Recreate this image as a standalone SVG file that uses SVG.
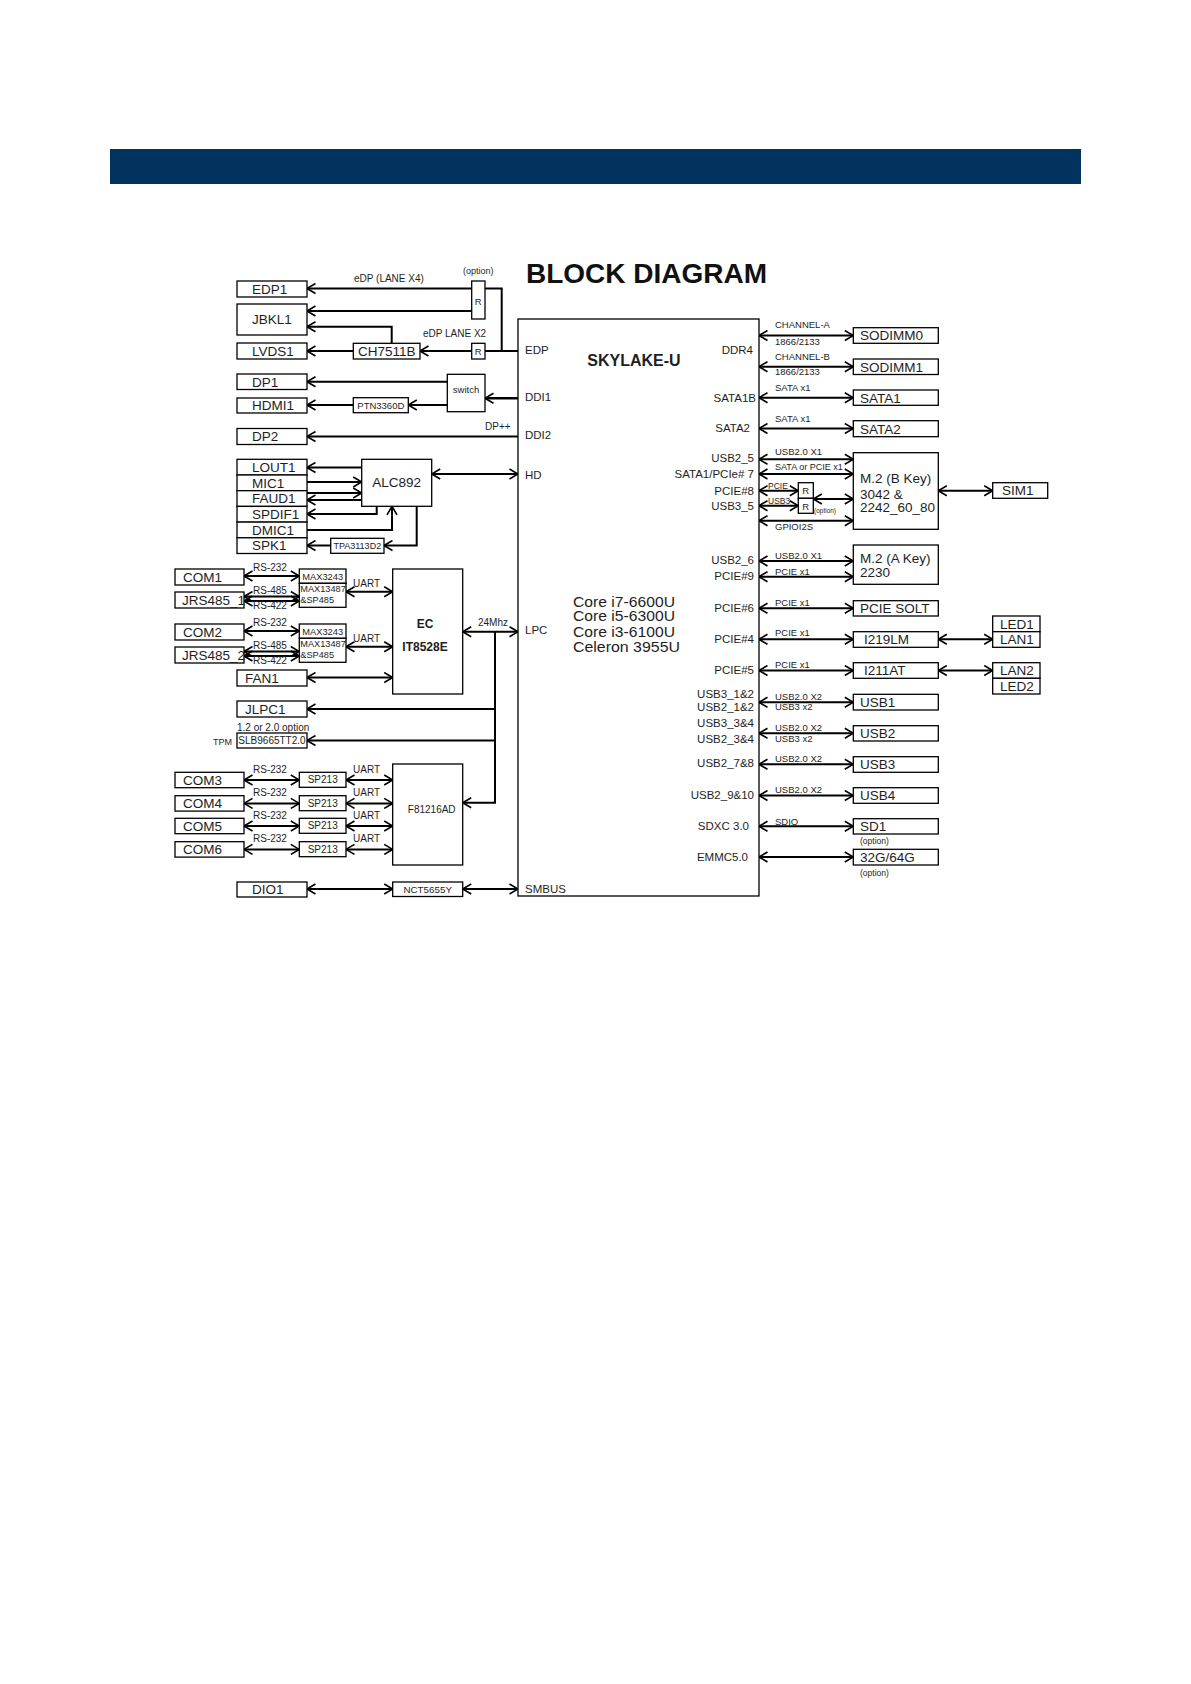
<svg xmlns="http://www.w3.org/2000/svg" width="1191" height="1684" viewBox="0 0 1191 1684">
<style>
.b{fill:#fff;stroke:#000;stroke-width:1.3}
text{font-family:"Liberation Sans",Arial,sans-serif;fill:#1e1e1e}
.lb{font-size:13.5px}
.sm{font-size:9.5px}
.xs{font-size:8.5px}
.pin{font-size:11.5px}
.mid{text-anchor:middle}
.end{text-anchor:end}
.bold{font-weight:bold}
.core{font-size:15px}
.c{fill:none;stroke:#000;stroke-width:2}
.a1{marker-end:url(#ah)}
.a2{marker-start:url(#ah);marker-end:url(#ah)}
</style>
<defs>
<marker id="ah" viewBox="0 0 10 12" refX="9.5" refY="6" markerWidth="10" markerHeight="12" orient="auto-start-reverse" markerUnits="userSpaceOnUse">
<path d="M1,1 L9.5,6 L1,11" fill="none" stroke="#000" stroke-width="1.6"/>
</marker>
</defs>
<rect width="1191" height="1684" fill="#fff"/>
<rect id="header" x="110" y="149" width="971" height="35" fill="#02335f"/>
<text x="526" y="283" font-size="28" class="bold" style="fill:#111">BLOCK DIAGRAM</text>

<g id="connectors">
<path class="c a1" d="M471.7,288.5H307"/>
<path class="c a1" d="M471.7,311H307"/>
<path class="c" d="M485,288.5H501.7V351"/>
<path class="c" d="M518,351H485"/>
<path class="c a1" d="M471.7,351H420"/>
<path class="c a1" d="M391.7,343.3V326.7H307"/>
<path class="c a1" d="M353.3,351H307"/>
<path class="c a1" d="M447.3,381.7H307"/>
<path class="c a1" d="M447.3,405H408.3"/>
<path class="c a1" d="M353.3,405H307"/>
<path class="c a1" d="M518,398.3H485" style="stroke-width:2.4"/>
<path class="c a1" d="M518,436.5H307"/>
<path class="c a2" d="M431.7,474H518"/>
<path class="c a1" d="M361.7,467.5H307"/>
<path class="c a1" d="M307,482H361.7"/>
<path class="c a1" d="M307,493H361.7"/>
<path class="c a1" d="M361.7,500H307"/>
<path class="c a1" d="M376.7,506.3V514H307"/>
<path class="c a1" d="M307,530H392V506.3"/>
<path class="c a1" d="M416.7,506.3V545.5H384"/>
<path class="c a1" d="M330.7,545.5H307"/>
<path class="c a2" d="M244,576H299.3"/>
<path class="c a2" d="M244,596.5H299.3"/>
<path class="c a2" d="M244,601H299.3"/>
<path class="c a2" d="M346,591.7H392.7"/>
<path class="c a2" d="M244,631H299.3"/>
<path class="c a2" d="M244,651.5H299.3"/>
<path class="c a2" d="M244,656H299.3"/>
<path class="c a2" d="M346,646.7H392.7"/>
<path class="c a2" d="M307,677.5H392.7"/>
<path class="c a2" d="M462.7,631.7H518"/>
<path class="c a1" d="M495,631.7V802.7H462.7"/>
<path class="c a1" d="M495,709H307"/>
<path class="c a1" d="M495,740.5H307"/>
<path class="c a2" d="M244,780H299.3"/>
<path class="c a2" d="M244,803.4H299.3"/>
<path class="c a2" d="M244,826H299.3"/>
<path class="c a2" d="M244,849.4H299.3"/>
<path class="c a2" d="M346,780H392.7"/>
<path class="c a2" d="M346,803.4H392.7"/>
<path class="c a2" d="M346,826H392.7"/>
<path class="c a2" d="M346,849.4H392.7"/>
<path class="c a2" d="M307,889H392.7"/>
<path class="c a2" d="M462.7,889H518"/>
<path class="c a2" d="M759,335.5H853.3"/>
<path class="c a2" d="M759,366.7H853.3"/>
<path class="c a2" d="M759,397.7H853.3"/>
<path class="c a2" d="M759,428.5H853.3"/>
<path class="c a2" d="M759,459.3H853.3"/>
<path class="c a2" d="M759,474H853.3"/>
<path class="c a2" d="M759,490.7H798.3"/>
<path class="c a2" d="M759,505.7H798.3"/>
<path class="c a2" d="M813.3,499H853.3"/>
<path class="c a2" d="M759,520.7H853.3"/>
<path class="c a2" d="M938.3,490.7H992.7"/>
<path class="c a2" d="M759,561H853.3"/>
<path class="c a2" d="M759,576.7H853.3"/>
<path class="c a2" d="M759,608.3H853.3"/>
<path class="c a2" d="M759,639.3H853.3"/>
<path class="c a2" d="M938.3,639.3H992.7"/>
<path class="c a2" d="M759,670.5H853.3"/>
<path class="c a2" d="M938.3,670.5H992.7"/>
<path class="c a2" d="M759,702.3H853.3"/>
<path class="c a2" d="M759,733.3H853.3"/>
<path class="c a2" d="M759,764.3H853.3"/>
<path class="c a2" d="M759,795.5H853.3"/>
<path class="c a2" d="M759,826.3H853.3"/>
<path class="c a2" d="M759,857H853.3"/>
<g id="connector-labels">
<text x="463" y="274" font-size="9">(option)</text>
<text x="354" y="281.5" font-size="10">eDP (LANE X4)</text>
<text x="423" y="336.5" font-size="10">eDP LANE X2</text>
<text x="485" y="430" font-size="10">DP++</text>
<text x="253" y="570.5" font-size="10">RS-232</text>
<text x="253" y="593.5" font-size="10">RS-485</text>
<text x="253" y="608.5" font-size="10">RS-422</text>
<text x="353" y="586.5" font-size="10">UART</text>
<text x="253" y="625.5" font-size="10">RS-232</text>
<text x="253" y="648.5" font-size="10">RS-485</text>
<text x="253" y="663.5" font-size="10">RS-422</text>
<text x="353" y="641.5" font-size="10">UART</text>
<text x="478" y="626" font-size="10">24Mhz</text>
<text x="253" y="772.6" font-size="10">RS-232</text>
<text x="253" y="796" font-size="10">RS-232</text>
<text x="253" y="818.6" font-size="10">RS-232</text>
<text x="253" y="842" font-size="10">RS-232</text>
<text x="353" y="772.6" font-size="10">UART</text>
<text x="353" y="796" font-size="10">UART</text>
<text x="353" y="818.6" font-size="10">UART</text>
<text x="353" y="842" font-size="10">UART</text>
<text x="775" y="328.3" class="sm">CHANNEL-A</text>
<text x="775" y="344.5" class="sm">1866/2133</text>
<text x="775" y="359.5" class="sm">CHANNEL-B</text>
<text x="775" y="375" class="sm">1866/2133</text>
<text x="775" y="390.5" class="sm">SATA x1</text>
<text x="775" y="421.5" class="sm">SATA x1</text>
<text x="775" y="454.5" class="sm">USB2.0 X1</text>
<text x="775" y="469.5" font-size="9">SATA or PCIE x1</text>
<text x="768" y="488.5" class="xs">PCIE</text>
<text x="768" y="503.5" class="xs">USB3</text>
<text x="814" y="512.5" font-size="6.5">(option)</text>
<text x="775" y="530" class="sm">GPIOI2S</text>
<text x="775" y="558.5" class="sm">USB2.0 X1</text>
<text x="775" y="574.5" class="sm">PCIE x1</text>
<text x="775" y="605.5" class="sm">PCIE x1</text>
<text x="775" y="636" class="sm">PCIE x1</text>
<text x="775" y="667.5" class="sm">PCIE x1</text>
<text x="775" y="699.8" class="sm">USB2.0 X2</text>
<text x="775" y="709.8" class="sm">USB3 x2</text>
<text x="775" y="730.7" class="sm">USB2.0 X2</text>
<text x="775" y="741.5" class="sm">USB3 x2</text>
<text x="775" y="761.5" class="sm">USB2.0 X2</text>
<text x="775" y="793" class="sm">USB2.0 X2</text>
<text x="775" y="825" class="sm">SDIO</text>
</g>
</g>

<g id="cpu">
<rect class="b" x="518" y="319" width="241" height="577"/>
<text x="634" y="365.7" font-size="16" class="bold mid">SKYLAKE-U</text>
<text x="573" y="606.7" class="core" textLength="102" lengthAdjust="spacingAndGlyphs">Core i7-6600U</text>
<text x="573" y="621.2" class="core" textLength="102" lengthAdjust="spacingAndGlyphs">Core i5-6300U</text>
<text x="573" y="636.5" class="core" textLength="102" lengthAdjust="spacingAndGlyphs">Core i3-6100U</text>
<text x="573" y="651.8" class="core" textLength="107" lengthAdjust="spacingAndGlyphs">Celeron 3955U</text>
<text x="525" y="354" class="pin">EDP</text>
<text x="525" y="400.7" class="pin">DDI1</text>
<text x="525" y="439" class="pin">DDI2</text>
<text x="525" y="479" class="pin">HD</text>
<text x="525" y="634" class="pin">LPC</text>
<text x="525" y="893" class="pin">SMBUS</text>
<text x="753" y="354" class="pin end">DDR4</text>
<text x="756" y="401.7" class="pin end">SATA1B</text>
<text x="750" y="432.3" class="pin end">SATA2</text>
<text x="754" y="462.3" class="pin end">USB2_5</text>
<text x="754" y="478" class="pin end">SATA1/PCIe# 7</text>
<text x="754" y="494.7" class="pin end">PCIE#8</text>
<text x="754" y="509.7" class="pin end">USB3_5</text>
<text x="754" y="564" class="pin end">USB2_6</text>
<text x="754" y="580" class="pin end">PCIE#9</text>
<text x="754" y="611.5" class="pin end">PCIE#6</text>
<text x="754" y="643.3" class="pin end">PCIE#4</text>
<text x="754" y="674.3" class="pin end">PCIE#5</text>
<text x="754" y="698" class="pin end">USB3_1&amp;2</text>
<text x="754" y="711.3" class="pin end">USB2_1&amp;2</text>
<text x="754" y="727.3" class="pin end">USB3_3&amp;4</text>
<text x="754" y="743" class="pin end">USB2_3&amp;4</text>
<text x="754" y="766.7" class="pin end">USB2_7&amp;8</text>
<text x="754" y="799" class="pin end">USB2_9&amp;10</text>
<text x="749" y="830" class="pin end">SDXC 3.0</text>
<text x="748" y="860.7" class="pin end">EMMC5.0</text>
</g>

<g id="edp1"><rect class="b" x="237" y="281" width="70" height="16"/><text x="252" y="293.5" class="lb">EDP1</text></g>
<g id="jbkl1"><rect class="b" x="237" y="304" width="70" height="31"/><text x="252" y="323.5" class="lb">JBKL1</text></g>
<g id="lvds1"><rect class="b" x="237" y="343" width="70" height="16"/><text x="252" y="355.8" class="lb">LVDS1</text></g>
<g id="dp1"><rect class="b" x="237" y="374" width="70" height="15.5"/><text x="252" y="386.5" class="lb">DP1</text></g>
<g id="hdmi1"><rect class="b" x="237" y="398" width="70" height="15"/><text x="252" y="410.3" class="lb">HDMI1</text></g>
<g id="dp2"><rect class="b" x="237" y="428.5" width="70" height="16"/><text x="252" y="441.3" class="lb">DP2</text></g>
<g id="r-top"><rect class="b" x="471.7" y="281" width="13.3" height="38"/><text x="478.3" y="305" class="sm mid">R</text></g>
<g id="r-edp"><rect class="b" x="471.7" y="343.3" width="13.3" height="15.7"/><text x="478.3" y="354.5" class="sm mid">R</text></g>
<g id="ch7511b"><rect class="b" x="353.3" y="343.3" width="66.7" height="15.7"/><text x="386.7" y="356" class="lb mid">CH7511B</text></g>
<g id="switch"><rect class="b" x="447.3" y="374.3" width="37.7" height="37.4"/><text x="466" y="393.3" class="sm mid">switch</text></g>
<g id="ptn3360d"><rect class="b" x="353.3" y="397.7" width="55" height="15"/><text x="380.8" y="408.5" font-size="9.5" class="mid">PTN3360D</text></g>

<g id="lout1"><rect class="b" x="237" y="459.3" width="70" height="15.7"/><text x="252" y="471.9" class="lb">LOUT1</text></g>
<g id="mic1"><rect class="b" x="237" y="475" width="70" height="15.7"/><text x="252" y="487.6" class="lb">MIC1</text></g>
<g id="faud1"><rect class="b" x="237" y="490.7" width="70" height="15.7"/><text x="252" y="503.3" class="lb">FAUD1</text></g>
<g id="spdif1"><rect class="b" x="237" y="506.4" width="70" height="15.7"/><text x="252" y="519" class="lb">SPDIF1</text></g>
<g id="dmic1"><rect class="b" x="237" y="522.1" width="70" height="15.7"/><text x="252" y="534.7" class="lb">DMIC1</text></g>
<g id="spk1"><rect class="b" x="237" y="537.8" width="70" height="15.7"/><text x="252" y="550.4" class="lb">SPK1</text></g>
<g id="alc892"><rect class="b" x="361.7" y="459.3" width="70" height="47"/><text x="396.7" y="487" class="lb mid">ALC892</text></g>
<g id="tpa3113d2"><rect class="b" x="330.7" y="538.3" width="53.3" height="15"/><text x="357.3" y="549" font-size="9" class="mid">TPA3113D2</text></g>

<g id="com1"><rect class="b" x="175" y="569" width="69" height="16"/><text x="183" y="581.8" class="lb">COM1</text></g>
<g id="jrs485_1"><rect class="b" x="175" y="592" width="69" height="16"/><text x="182" y="604.8" class="lb">JRS485_1</text></g>
<g id="max3243-1"><rect class="b" x="299.3" y="569" width="46.7" height="14.3"/><text x="322.7" y="579.6" font-size="9.3" class="mid">MAX3243</text></g>
<g id="max13487-1"><rect class="b" x="299.3" y="583.3" width="46.7" height="24"/><text x="300.3" y="592" font-size="9.2">MAX13487</text><text x="300.3" y="603" font-size="9.2">&amp;SP485</text></g>
<g id="com2"><rect class="b" x="175" y="624" width="69" height="16"/><text x="183" y="636.8" class="lb">COM2</text></g>
<g id="jrs485_2"><rect class="b" x="175" y="647" width="69" height="16"/><text x="182" y="659.8" class="lb">JRS485_2</text></g>
<g id="max3243-2"><rect class="b" x="299.3" y="624" width="46.7" height="14.3"/><text x="322.7" y="634.6" font-size="9.3" class="mid">MAX3243</text></g>
<g id="max13487-2"><rect class="b" x="299.3" y="638.3" width="46.7" height="24"/><text x="300.3" y="647" font-size="9.2">MAX13487</text><text x="300.3" y="658" font-size="9.2">&amp;SP485</text></g>
<g id="ec"><rect class="b" x="392.7" y="569" width="70" height="125"/><text x="425" y="627.5" font-size="12" class="bold mid">EC</text><text x="425" y="651" font-size="12" class="bold mid">IT8528E</text></g>
<g id="fan1"><rect class="b" x="237" y="670" width="70" height="16"/><text x="245" y="682.8" class="lb">FAN1</text></g>
<g id="jlpc1"><rect class="b" x="237" y="701" width="70" height="16"/><text x="245" y="713.8" class="lb">JLPC1</text></g>
<g id="tpm"><rect class="b" x="237" y="733" width="70" height="15"/><text x="272" y="744.3" font-size="10" class="mid">SLB9665TT2.0</text><text x="237" y="731" font-size="10">1.2 or 2.0 option</text><text x="213" y="744.5" font-size="9">TPM</text></g>
<g id="com3"><rect class="b" x="175" y="772.3" width="69" height="15.4"/><text x="183" y="784.8" class="lb">COM3</text></g>
<g id="com4"><rect class="b" x="175" y="795.7" width="69" height="15.4"/><text x="183" y="808.2" class="lb">COM4</text></g>
<g id="com5"><rect class="b" x="175" y="818.3" width="69" height="15.4"/><text x="183" y="830.8" class="lb">COM5</text></g>
<g id="com6"><rect class="b" x="175" y="841.7" width="69" height="15.4"/><text x="183" y="854.2" class="lb">COM6</text></g>
<g id="sp213-1"><rect class="b" x="299.3" y="772.3" width="46.7" height="15"/><text x="322.7" y="783.4" font-size="10" class="mid">SP213</text></g>
<g id="sp213-2"><rect class="b" x="299.3" y="795.7" width="46.7" height="15"/><text x="322.7" y="806.8" font-size="10" class="mid">SP213</text></g>
<g id="sp213-3"><rect class="b" x="299.3" y="818.3" width="46.7" height="15"/><text x="322.7" y="829.4" font-size="10" class="mid">SP213</text></g>
<g id="sp213-4"><rect class="b" x="299.3" y="841.7" width="46.7" height="15"/><text x="322.7" y="852.8" font-size="10" class="mid">SP213</text></g>
<g id="f81216ad"><rect class="b" x="392.7" y="764" width="70" height="101"/><text x="431.7" y="812.5" font-size="10" class="mid">F81216AD</text></g>
<g id="dio1"><rect class="b" x="237" y="882" width="70" height="15"/><text x="252" y="894.3" class="lb">DIO1</text></g>
<g id="nct5655y"><rect class="b" x="392.7" y="882" width="70" height="14.5"/><text x="427.7" y="892.6" font-size="9.8" class="mid">NCT5655Y</text></g>

<g id="sodimm0"><rect class="b" x="853.3" y="327.7" width="85" height="15.6"/><text x="860" y="340.3" class="lb">SODIMM0</text></g>
<g id="sodimm1"><rect class="b" x="853.3" y="359" width="85" height="15.5"/><text x="860" y="371.5" class="lb">SODIMM1</text></g>
<g id="sata1"><rect class="b" x="853.3" y="390" width="85" height="15.3"/><text x="860" y="402.5" class="lb">SATA1</text></g>
<g id="sata2"><rect class="b" x="853.3" y="420.7" width="85" height="16"/><text x="860" y="433.5" class="lb">SATA2</text></g>
<g id="m2-bkey"><rect class="b" x="853.3" y="452.7" width="85" height="76.6"/><text x="860" y="482.5" class="lb">M.2 (B Key)</text><text x="860" y="498.5" class="lb">3042 &amp;</text><text x="860" y="512" class="lb">2242_60_80</text></g>
<g id="r-pcie8"><rect class="b" x="798.3" y="482.7" width="15" height="15.6"/><text x="805.8" y="494" class="sm mid">R</text></g>
<g id="r-usb3"><rect class="b" x="798.3" y="498.3" width="15" height="15"/><text x="805.8" y="509.5" class="sm mid">R</text></g>
<g id="sim1"><rect class="b" x="992.7" y="482.7" width="55" height="15.6"/><text x="1002" y="495.3" class="lb">SIM1</text></g>
<g id="m2-akey"><rect class="b" x="853.3" y="545" width="85" height="39.3"/><text x="860" y="562.5" class="lb">M.2 (A Key)</text><text x="860" y="576.5" class="lb">2230</text></g>
<g id="pcie-solt"><rect class="b" x="853.3" y="600.7" width="85" height="15.3"/><text x="860" y="613" class="lb">PCIE SOLT</text></g>
<g id="i219lm"><rect class="b" x="853.3" y="631.7" width="85" height="15.6"/><text x="864" y="644.2" class="lb">I219LM</text></g>
<g id="i211at"><rect class="b" x="853.3" y="662.7" width="85" height="15.6"/><text x="864" y="675.2" class="lb">I211AT</text></g>
<g id="led1"><rect class="b" x="992.7" y="616" width="47.3" height="15.7"/><text x="1000" y="628.5" class="lb">LED1</text></g>
<g id="lan1"><rect class="b" x="992.7" y="631.7" width="47.3" height="15.6"/><text x="1000" y="644.2" class="lb">LAN1</text></g>
<g id="lan2"><rect class="b" x="992.7" y="662.7" width="47.3" height="15.6"/><text x="1000" y="675.2" class="lb">LAN2</text></g>
<g id="led2"><rect class="b" x="992.7" y="678.3" width="47.3" height="15.7"/><text x="1000" y="690.8" class="lb">LED2</text></g>
<g id="usb1"><rect class="b" x="853.3" y="694.3" width="85" height="15.7"/><text x="860" y="707" class="lb">USB1</text></g>
<g id="usb2"><rect class="b" x="853.3" y="725.7" width="85" height="15.3"/><text x="860" y="738" class="lb">USB2</text></g>
<g id="usb3"><rect class="b" x="853.3" y="756.7" width="85" height="15.6"/><text x="860" y="769.2" class="lb">USB3</text></g>
<g id="usb4"><rect class="b" x="853.3" y="787.7" width="85" height="15.6"/><text x="860" y="800.2" class="lb">USB4</text></g>
<g id="sd1"><rect class="b" x="853.3" y="818.7" width="85" height="15.3"/><text x="860" y="831" class="lb">SD1</text><text x="860" y="844" class="xs">(option)</text></g>
<g id="emmc"><rect class="b" x="853.3" y="849.3" width="85" height="15.7"/><text x="860" y="862" class="lb">32G/64G</text><text x="860" y="875.5" class="xs">(option)</text></g>
</svg>
